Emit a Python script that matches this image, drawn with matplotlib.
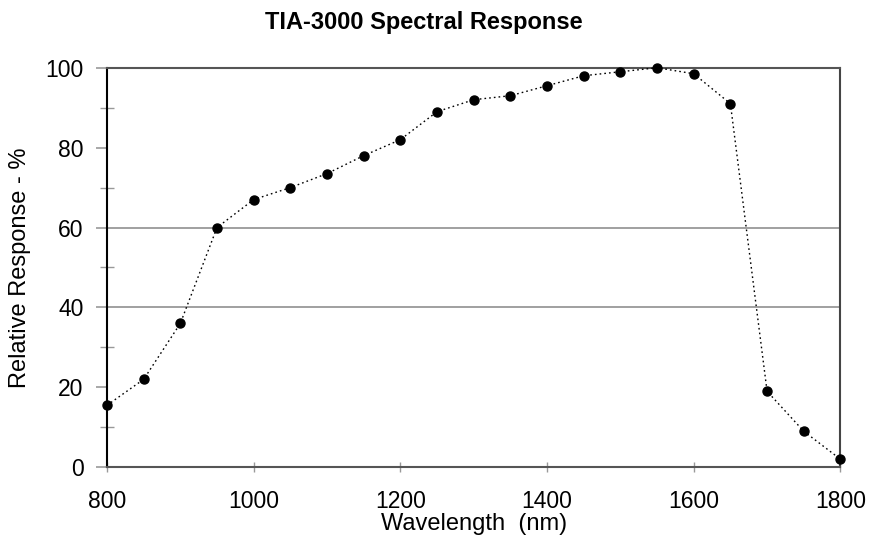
import numpy as np
import matplotlib.pyplot as plt

plt.rcParams['font.family'] = ['Liberation Sans', 'DejaVu Sans']

# wavelength (nm) and relative response (%)
wavelength = [800, 850, 900, 950, 1000, 1050, 1100, 1150, 1200, 1250, 1300,
              1350, 1400, 1450, 1500, 1550, 1600, 1650, 1700, 1750, 1800]
response = [15.5, 22, 36, 60, 67, 70, 73.5, 78, 82, 89, 92,
            93, 95.5, 98, 99, 100, 98.5, 91, 19, 9, 2]

x_ticks = [800, 1000, 1200, 1400, 1600, 1800]
y_ticks = [0, 20, 40, 60, 80, 100]
grid_values = [40, 60]

fig = plt.figure(figsize=(8.7, 5.42), dpi=100)
ax = fig.add_axes([0.123, 0.138, 0.843, 0.737])

# gridlines only at 40 and 60
for g in grid_values:
    ax.axhline(g, color='#999999', lw=1.3, zorder=1)

ax.plot(wavelength, response, color='black', lw=1.0, ls=(0, (1.2, 2.2)),
        marker='o', markersize=6.5, markerfacecolor='black',
        markeredgecolor='black', zorder=3, clip_on=False)

ax.set_xlim(800, 1800)
ax.set_ylim(0, 100)
ax.set_xticks(x_ticks)
ax.set_yticks(y_ticks)
ax.set_yticks([10, 30, 50, 70, 90], minor=True)

ax.tick_params(axis='y', which='major', direction='out', length=8,
               width=1.2, color='#999999', labelsize=16.5, pad=9)
ax.tick_params(axis='y', which='minor', direction='inout', length=9.5,
               width=1.0, color='#999999')
ax.tick_params(axis='x', which='major', direction='inout', length=7,
               width=1.0, color='#999999', labelsize=16.5, pad=13)

ax.spines['left'].set_color('black')
ax.spines['left'].set_linewidth(1.5)
ax.spines['right'].set_color('#444444')
ax.spines['right'].set_linewidth(1.5)
ax.spines['top'].set_color('#555555')
ax.spines['top'].set_linewidth(1.5)
ax.spines['bottom'].set_color('#555555')
ax.spines['bottom'].set_linewidth(1.5)

ax.set_xlabel('Wavelength  (nm)', fontsize=17, labelpad=0)
ax.set_ylabel('Relative Response - %', fontsize=17, labelpad=10)
fig.suptitle('TIA-3000 Spectral Response', fontsize=17, fontweight='bold',
             x=0.487, y=0.98)

fig.savefig('out.png', dpi=100, facecolor='white')
